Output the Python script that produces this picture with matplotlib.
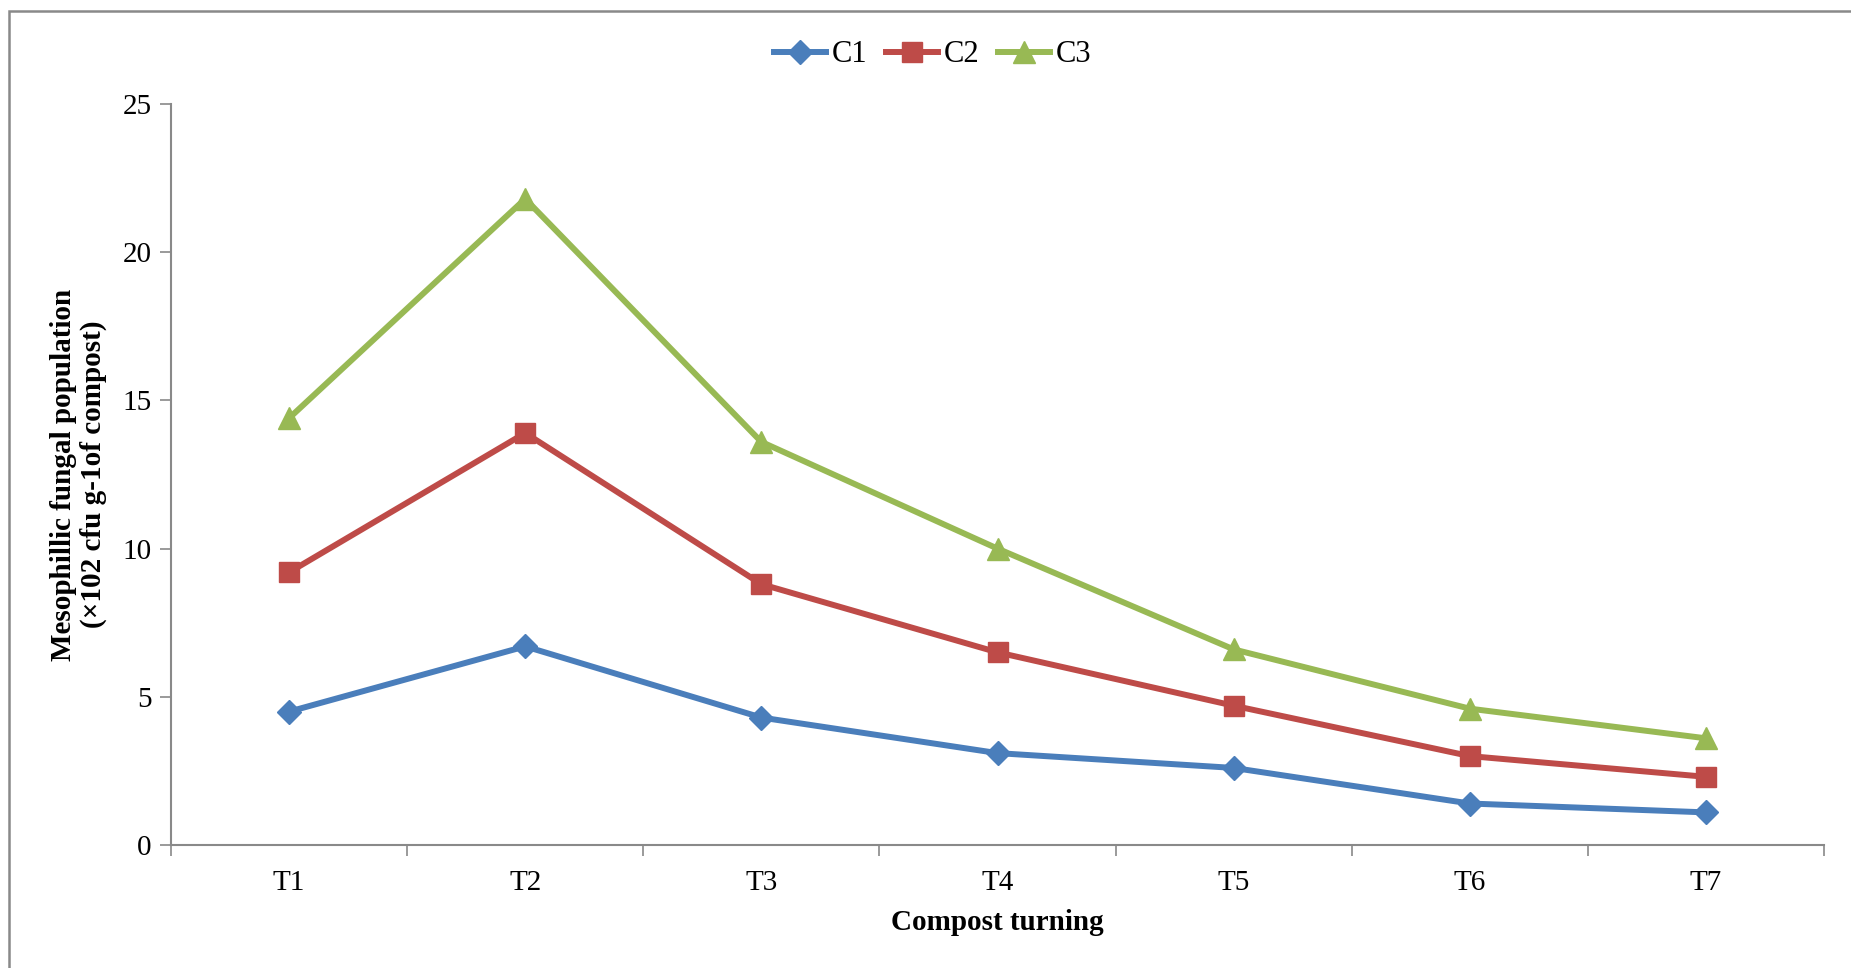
import matplotlib
matplotlib.use('Agg')
import matplotlib.pyplot as plt
from matplotlib.patches import Rectangle
from matplotlib.ticker import FixedLocator, NullFormatter

plt.rcParams['font.family'] = ['Liberation Serif', 'DejaVu Serif']

turnings = ['T1', 'T2', 'T3', 'T4', 'T5', 'T6', 'T7']
c1 = [4.5, 6.7, 4.3, 3.1, 2.6, 1.4, 1.1]
c2 = [9.2, 13.9, 8.8, 6.5, 4.7, 3.0, 2.3]
c3 = [14.4, 21.8, 13.6, 10.0, 6.6, 4.6, 3.6]

fig = plt.figure(figsize=(18.51, 9.68), dpi=100)
ax = fig.add_axes([171 / 1851, 1 - 845 / 968, (1824 - 171) / 1851, (845 - 104) / 968])

x = list(range(len(turnings)))
ax.plot(x, c1, color='#4A7EBB', lw=4.3, marker='D', ms=12, label='C1')
ax.plot(x, c2, color='#BE4B48', lw=4.3, marker='s', ms=14, label='C2')
ax.plot(x, c3, color='#98B954', lw=4.3, marker='^', ms=16, label='C3')

ax.set_xlim(-0.5, 6.5)
ax.set_ylim(0, 25)
ax.set_yticks([0, 5, 10, 15, 20, 25])

# tick marks sit between the categories, labels at the centres
ax.xaxis.set_major_locator(FixedLocator([i - 0.5 for i in range(8)]))
ax.xaxis.set_major_formatter(NullFormatter())
ax.xaxis.set_minor_locator(FixedLocator(x))
ax.set_xticklabels(turnings, minor=True)
ax.tick_params(axis='x', which='major', length=8, width=1.2, color='#898989')
ax.tick_params(axis='x', which='minor', length=0, pad=18, labelsize=21)
ax.tick_params(axis='y', length=8, width=1.2, color='#898989', labelsize=21, pad=6)

for side in ['top', 'right']:
    ax.spines[side].set_visible(False)
for side in ['left', 'bottom']:
    ax.spines[side].set_color('#898989')
    ax.spines[side].set_linewidth(1.5)

ax.set_xlabel('Compost turning', fontsize=21, fontweight='bold', labelpad=9)
ax.set_ylabel('Mesophillic fungal population\n(×102 cfu g-1of compost)',
              fontsize=21, fontweight='bold', labelpad=11, linespacing=1.12)

ax.legend(loc='center', bbox_to_anchor=(933 / 1851, 1 - 55 / 968),
          bbox_transform=fig.transFigure, ncol=3, frameon=False, fontsize=22,
          handlelength=1.7, handletextpad=0.2, columnspacing=0.6)

fig.patches.append(Rectangle((9 / 1851, -0.1), 1.2, 1.1 - 11 / 968,
                             transform=fig.transFigure, fill=False,
                             edgecolor='#898989', lw=1.8))

fig.savefig('out.png', dpi=100)
